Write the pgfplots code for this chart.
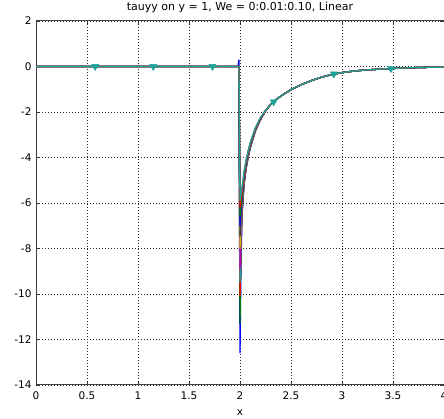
\documentclass[border=0pt]{standalone}
\usepackage{pgfplots}
\pgfplotsset{compat=1.18}
\usepackage{pgfplotstable}
\usepackage{fontspec}
\setmainfont{DejaVu Sans}
\definecolor{mlb}{rgb}{0,0,1}
\definecolor{mlg}{rgb}{0,0.5,0}
\definecolor{mlr}{rgb}{1,0,0}
\definecolor{mlc}{rgb}{0.12,0.64,0.6}
\definecolor{mlm}{rgb}{0.75,0,0.75}
\definecolor{mly}{rgb}{0.75,0.75,0}
\definecolor{mlk}{rgb}{0.25,0.25,0.25}

\pgfplotstableread{
x     y1    y2    y3    y4    y5    y6    y7    y8    y9    y10   y11
0     0     0     0     0     0     0     0     0     0     0     0
1.98  0     0     0     0     0     0     0     0     0     0     0
1.99  0.3   0     0     0     0     0     0     0     0     0     0
2.00  -12.6 -11.3 -10.1 -9.5  -8.9  -8.0  -7.5  -7.0  -6.6  -6.2  -5.9
2.01  -8.5  -8.0  -7.6  -7.3  -7.0  -6.7  -6.5  -6.3  -6.1  -5.8  -5.6
2.02  -6.6  -6.4  -6.3  -6.2  -6.1  -6.0  -5.9  -5.8  -5.7  -5.5  -5.3
2.04  -5.2  -5.14 -5.08 -5.02 -4.96 -4.9  -4.84 -4.78 -4.72 -4.66 -4.6
2.06  -4.5  -4.46 -4.42 -4.38 -4.34 -4.3  -4.26 -4.22 -4.18 -4.14 -4.1
2.08  -4.0  -3.97 -3.94 -3.91 -3.88 -3.85 -3.82 -3.79 -3.76 -3.73 -3.7
2.10  -3.6  -3.58 -3.55 -3.53 -3.5  -3.48 -3.45 -3.43 -3.4  -3.38 -3.35
2.15  -2.85 -2.84 -2.82 -2.81 -2.79 -2.78 -2.76 -2.75 -2.73 -2.72 -2.7
2.20  -2.35 -2.34 -2.33 -2.32 -2.31 -2.3  -2.29 -2.28 -2.27 -2.26 -2.25
2.25  -1.96 -1.96 -1.95 -1.95 -1.95 -1.94 -1.94 -1.94 -1.93 -1.93 -1.93
2.30  -1.67 -1.67 -1.67 -1.67 -1.67 -1.67 -1.67 -1.67 -1.67 -1.67 -1.67
2.35  -1.47 -1.47 -1.47 -1.47 -1.47 -1.47 -1.47 -1.47 -1.47 -1.47 -1.47
2.40  -1.30 -1.30 -1.30 -1.30 -1.30 -1.30 -1.30 -1.30 -1.30 -1.30 -1.30
2.50  -1.02 -1.02 -1.02 -1.02 -1.02 -1.02 -1.02 -1.02 -1.02 -1.02 -1.02
2.60  -0.80 -0.80 -0.80 -0.80 -0.80 -0.80 -0.80 -0.80 -0.80 -0.80 -0.80
2.70  -0.62 -0.62 -0.62 -0.62 -0.62 -0.62 -0.62 -0.62 -0.62 -0.62 -0.62
2.80  -0.47 -0.47 -0.47 -0.47 -0.47 -0.47 -0.47 -0.47 -0.47 -0.47 -0.47
2.92  -0.33 -0.33 -0.33 -0.33 -0.33 -0.33 -0.33 -0.33 -0.33 -0.33 -0.33
3.00  -0.27 -0.27 -0.27 -0.27 -0.27 -0.27 -0.27 -0.27 -0.27 -0.27 -0.27
3.10  -0.21 -0.21 -0.21 -0.21 -0.21 -0.21 -0.21 -0.21 -0.21 -0.21 -0.21
3.20  -0.165 -0.165 -0.165 -0.165 -0.165 -0.165 -0.165 -0.165 -0.165 -0.165 -0.165
3.35  -0.12 -0.12 -0.12 -0.12 -0.12 -0.12 -0.12 -0.12 -0.12 -0.12 -0.12
3.50  -0.085 -0.085 -0.085 -0.085 -0.085 -0.085 -0.085 -0.085 -0.085 -0.085 -0.085
3.65  -0.06 -0.06 -0.06 -0.06 -0.06 -0.06 -0.06 -0.06 -0.06 -0.06 -0.06
3.80  -0.04 -0.04 -0.04 -0.04 -0.04 -0.04 -0.04 -0.04 -0.04 -0.04 -0.04
4.00  -0.025 -0.025 -0.025 -0.025 -0.025 -0.025 -0.025 -0.025 -0.025 -0.025 -0.025
}\data

\begin{document}
\begin{tikzpicture}
\begin{axis}[
  width=408pt, height=364pt, scale only axis,
  xmin=0, xmax=4, ymin=-14, ymax=2,
  xtick={0,0.5,1,1.5,2,2.5,3,3.5,4},
  ytick={-14,-12,-10,-8,-6,-4,-2,0,2},
  grid=major,
  major grid style={dash pattern=on 0.9pt off 2.1pt, black!85, line width=0.8pt},
  tick align=inside,
  major tick length=4pt,
  tick style={black!80, line width=0.7pt},
  axis line style={black!75, line width=1pt},
  font=\fontsize{10.5}{12}\selectfont,
  ticklabel style={font=\fontsize{10.5}{12}\selectfont},
  /pgf/number format/assume math mode=true,
  xticklabel style={yshift=-3pt},
  yticklabel style={xshift=-1pt},
  xlabel={x},
  xlabel style={yshift=-3pt, font=\fontsize{10.5}{12}\selectfont},
  title={tauyy on y = 1, We = 0:0.01:0.10, Linear},
  title style={yshift=-1pt, font=\fontsize{11}{12}\selectfont},
  every axis plot/.append style={line width=1.3pt},
]
\coordinate (sw) at (rel axis cs:0,0);
\coordinate (ne) at (rel axis cs:1,1);
\addplot[mlb] table[x=x,y=y1] {\data};
\addplot[mlg] table[x=x,y=y2] {\data};
\addplot[mlr] table[x=x,y=y3] {\data};
\addplot[mlc] table[x=x,y=y4] {\data};
\addplot[mlm] table[x=x,y=y5] {\data};
\addplot[mly] table[x=x,y=y6] {\data};
\addplot[mlk] table[x=x,y=y7] {\data};
\addplot[mlb] table[x=x,y=y8] {\data};
\addplot[mlg] table[x=x,y=y9] {\data};
\addplot[mlr] table[x=x,y=y10] {\data};
\addplot[mlc] table[x=x,y=y11] {\data};
\addplot[only marks, mark=triangle*, mark size=4pt, color=mlc, fill=mlc,
  mark options={rotate=180, line width=0.5pt}]
  coordinates {(0.58,0) (1.15,0) (1.73,0) (2.33,-1.55) (2.92,-0.33) (3.48,-0.09)};
\end{axis}
\pgfresetboundingbox
\path[use as bounding box] ([shift={(-36pt,-34pt)}]sw) rectangle ([shift={(0pt,21pt)}]ne);
\end{tikzpicture}
\end{document}
